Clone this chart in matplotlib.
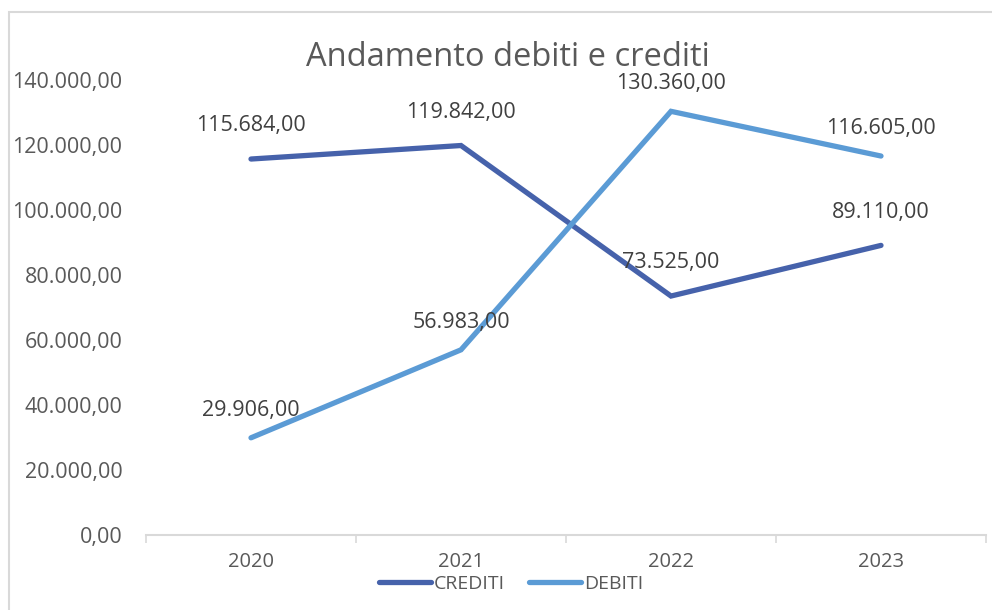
import matplotlib.pyplot as plt
from matplotlib.patches import Rectangle
from matplotlib.lines import Line2D

anni = ['2020', '2021', '2022', '2023']
crediti = [115684, 119842, 73525, 89110]
debiti = [29906, 56983, 130360, 116605]
y_ticks = [0, 20000, 40000, 60000, 80000, 100000, 120000, 140000]

col_crediti = '#4662AB'
col_debiti = '#5B9BD5'
grigio = '#595959'
testo = '#404040'

plt.rcParams['font.family'] = ['Open Sans', 'DejaVu Sans']


def fmt(v):
    # formato italiano: punto per le migliaia, virgola per i decimali
    s = f'{v:,.2f}'
    return s.replace(',', 'X').replace('.', ',').replace('X', '.')


fig = plt.figure(figsize=(9.92, 6.10), dpi=100)
fig.patches.append(Rectangle((9 / 992, -0.1), 1.2, (610 - 12) / 610 + 0.1,
                             transform=fig.transFigure, fill=False,
                             edgecolor='#D9D9D9', linewidth=1.5))

ax = fig.add_axes([146 / 992, 75 / 610, 840 / 992, 455 / 610])
x = range(len(anni))
ax.plot(x, crediti, color=col_crediti, lw=3.8, solid_capstyle='round',
        solid_joinstyle='miter', label='CREDITI')
ax.plot(x, debiti, color=col_debiti, lw=3.8, solid_capstyle='round',
        solid_joinstyle='miter', label='DEBITI')

for xi, v in zip(x, crediti):
    ax.annotate(fmt(v), (xi, v), xytext=(0, 24), textcoords='offset points',
                ha='center', va='center', fontsize=15.5, color=testo)
for xi, v in zip(x, debiti):
    ax.annotate(fmt(v), (xi, v), xytext=(0, 20), textcoords='offset points',
                ha='center', va='center', fontsize=15.5, color=testo)

ax.set_xlim(-0.5, 3.5)
ax.set_ylim(0, 140000)
ax.set_xticks([i - 0.5 for i in range(len(anni) + 1)])
ax.set_xticklabels([])
ax.set_xticks(list(x), minor=True)
ax.set_xticklabels(anni, minor=True, fontsize=14.5, color=grigio)
ax.tick_params(axis='x', which='major', length=6, color='#D9D9D9', width=1.2)
ax.tick_params(axis='x', which='minor', length=0, pad=12)
ax.set_yticks(y_ticks)
ax.set_yticklabels([fmt(v) for v in y_ticks], fontsize=15.5, color=grigio)
ax.tick_params(axis='y', length=0, pad=17)

for s in ['top', 'right', 'left']:
    ax.spines[s].set_visible(False)
ax.spines['bottom'].set_color('#D9D9D9')
ax.spines['bottom'].set_linewidth(1.5)

fig.text(508 / 992, 1 - 57 / 610, 'Andamento debiti e crediti', ha='center',
         va='center', fontsize=23.5, color=grigio)

handles = [Line2D([], [], color=col_crediti, lw=3.8, solid_capstyle='round'),
           Line2D([], [], color=col_debiti, lw=3.8, solid_capstyle='round')]
fig.legend(handles, ['CREDITI', 'DEBITI'], loc='center',
           bbox_to_anchor=(511 / 992, 1 - 584 / 610), ncol=2, frameon=False,
           fontsize=14, handlelength=2.7, handletextpad=0.15, columnspacing=1.2,
           labelcolor=grigio, borderpad=0.1)

fig.savefig('out.png', dpi=100)
